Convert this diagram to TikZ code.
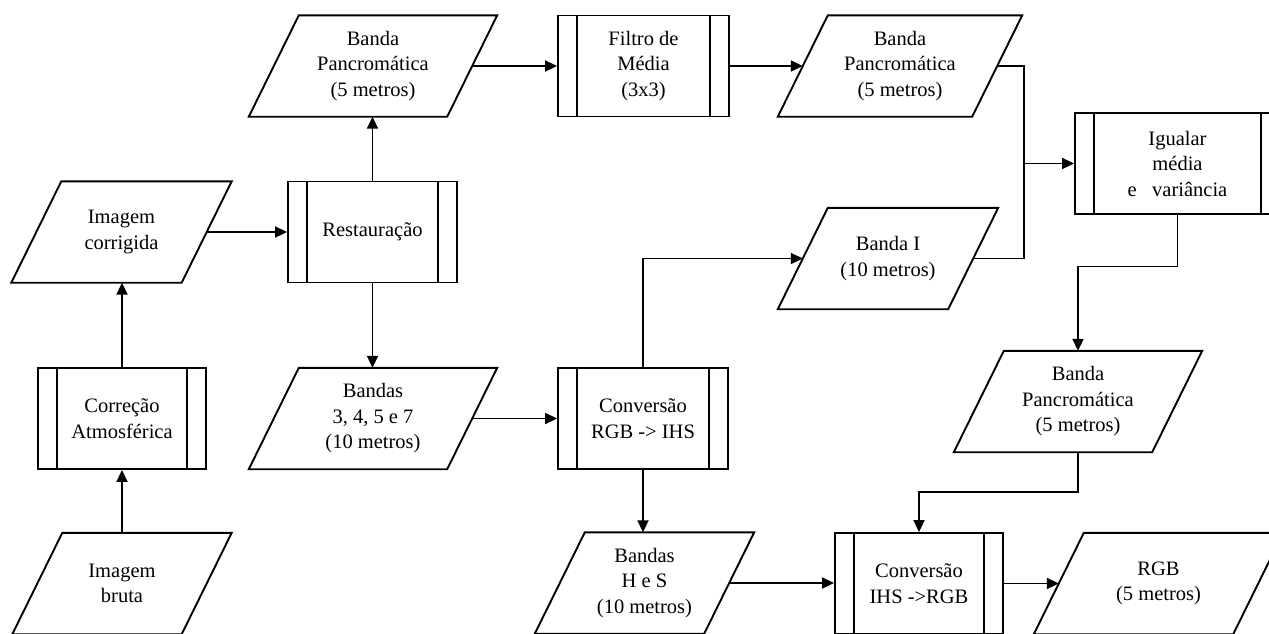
\documentclass[tikz,border=0pt]{standalone}
\usepackage{fontspec}
\setmainfont{Liberation Serif}
\usetikzlibrary{arrows.meta}
\begin{document}
\begin{tikzpicture}[x=1pt,y=-1pt,
  every node/.style={font=\fontsize{20.5}{25.5}\selectfont, align=center, inner sep=0pt},
  data/.style={minimum height=101},
  proc/.style={minimum height=101, draw, line width=1.9pt},
  wire/.style={line width=1.9pt},
  conn/.style={line width=1.9pt, -{Triangle[length=12pt,width=11pt]}}]
\useasboundingbox (0,0) rectangle (1269,633);
\clip (0,0) rectangle (1269,633);

\node[data, minimum width=169] (bruta) at (122,583.5) {Imagem\\bruta};
\node[proc, minimum width=168] (atm) at (122,418.5) {Correção\\Atmosférica};
\node[data, minimum width=170] (corr) at (121.5,232) {Imagem\\corrigida};
\node[proc, minimum width=169] (rest) at (372.5,232) {Restauração};
\node[data, minimum width=198] (pan1) at (373,66) {Banda\\Pancromática\\(5 metros)};
\node[data, minimum width=198] (b3457) at (373,418.5) {Bandas\\3, 4, 5 e 7\\(10 metros)};
\node[proc, minimum width=171] (filt) at (643.5,66) {Filtro de\\Média\\(3x3)};
\node[data, minimum width=194] (pan2) at (900,66) {Banda\\Pancromática\\(5 metros)};
\node[proc, minimum width=170] (rgbihs) at (643,418.5) {Conversão\\RGB -> IHS};
\node[data, minimum width=170] (bi) at (888,258.5) {Banda I\\(10 metros)};
\node[proc, minimum width=205] (igual) at (1177.5,163.5) {Igualar\\média\\e \ \ variância};
\node[data, minimum width=198] (pan3) at (1078,401.5) {Banda\\Pancromática\\(5 metros)};
\node[data, minimum width=169] (hs) at (644.5,583) {Bandas\\H e S\\(10 metros)};
\node[proc, minimum width=168] (ihsrgb) at (919,583.5) {Conversão\\IHS ->RGB};
\node[data, minimum width=199] (rgb) at (1158.5,583.5) {RGB\\(5 metros)};

\foreach \n in {bruta,corr,pan1,b3457,pan2,bi,pan3,hs,rgb}
  \draw[wire] ([xshift=25]\n.north west) -- ([xshift=25]\n.north east)
    -- ([xshift=-25]\n.south east) -- ([xshift=-25]\n.south west) -- cycle;
\foreach \n in {atm,rest,filt,rgbihs,igual,ihsrgb}
  \draw[wire] ([xshift=20]\n.north west) -- ([xshift=20]\n.south west)
    ([xshift=-20]\n.north east) -- ([xshift=-20]\n.south east);

\coordinate (j) at (1024,163.5);
\draw[conn] (atm.south |- bruta.north) -- (atm.south);
\draw[conn] (atm.north) -- (atm.north |- corr.south);
\draw[conn] (corr.east) -- (rest.west);
\draw[conn] (rest.north) -- (rest.north |- pan1.south);
\draw[conn] (rest.south) -- (rest.south |- b3457.north);
\draw[conn] (pan1.east) -- (filt.west);
\draw[conn] (filt.east) -- (pan2.west);
\draw[wire] (pan2.east) -| (j);
\draw[wire] (bi.east) -| (j);
\draw[conn] (j) -- (igual.west);
\draw[conn] (b3457.east) -- (rgbihs.west);
\draw[conn] (rgbihs.north) |- (bi.west);
\draw[conn] (rgbihs.south) -- (rgbihs.south |- hs.north);
\draw[conn] (igual.south) -- ++(0,51.5) -| (pan3.north);
\draw[conn] (pan3.south) -- ++(0,40) -| (ihsrgb.north);
\draw[conn] (hs.east) -- (hs.east -| ihsrgb.west);
\draw[conn] (ihsrgb.east) -- (rgb.west);
\end{tikzpicture}
\end{document}
